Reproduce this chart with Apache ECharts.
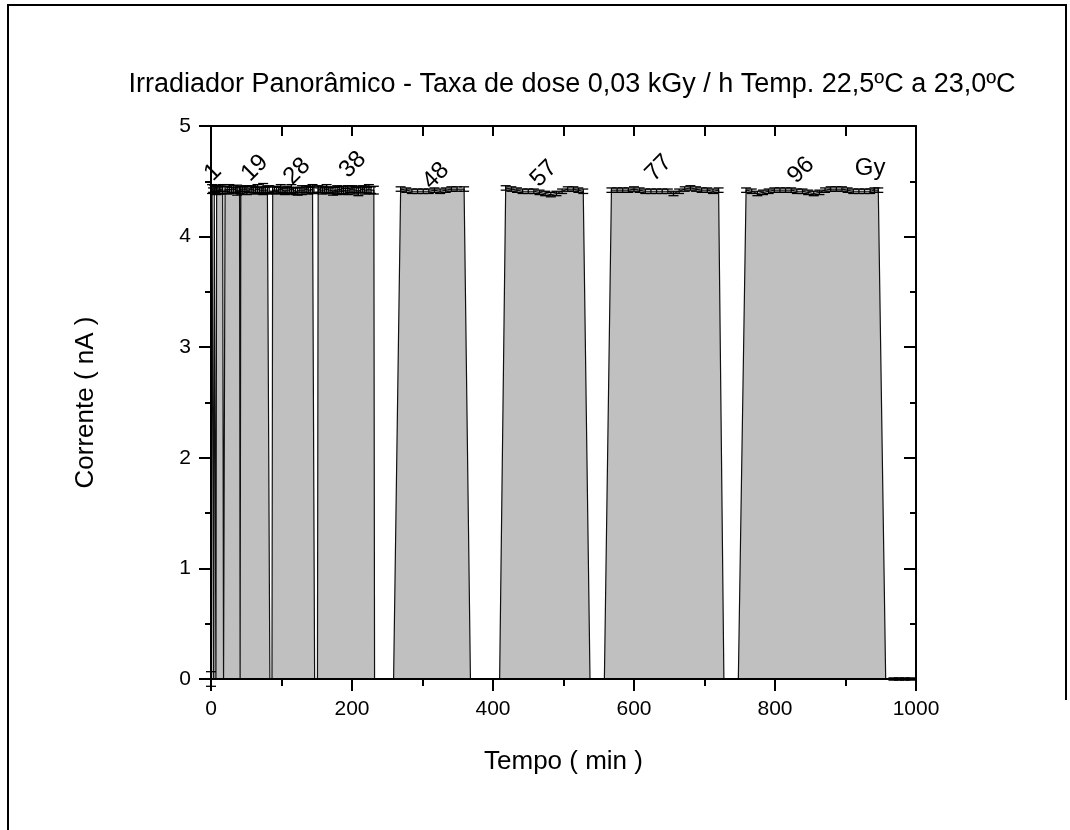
<!DOCTYPE html>
<html>
<head>
<meta charset="utf-8">
<script src="https://cdn.jsdelivr.net/npm/echarts@6/dist/echarts.min.js"></script>
<style>
html,body{margin:0;padding:0;background:#fff;}
#chart{width:1070px;height:830px;}
</style>
</head>
<body>
<div id="chart"></div>
<script>
// [tempo (min), corrente (nA), erro (nA)]
var bloco1 = [[0,0,0.066],[1.5,4.43,0.04],[3,4.42,0.02],[3.8,0,0],[4.6,4.43,0.035],[6,4.43,0.025],[7,0,0],[8,4.42,0.04],[10,4.43,0.02],[12,4.42,0.035],[14,4.43,0.025],[16.5,4.43,0.04],[17.8,0,0],[18.8,0,0],[20,4.43,0.02],[23,4.42,0.035],[26,4.43,0.04],[29,4.42,0.025],[32,4.43,0.03],[35,4.42,0.02],[37,4.42,0.045],[40.5,4.42,0.03],[41.3,0,0]];
var bloco2 = [[42.3,4.43,0.02],[45,4.42,0.035],[48,4.43,0.025],[51,4.42,0.04],[54,4.42,0.02],[57,4.43,0.03],[60,4.42,0.035],[63,4.42,0.025],[66,4.43,0.04],[69,4.42,0.02],[72,4.42,0.03],[74,4.43,0.05],[77,4.42,0.025],[80,4.42,0.035],[82.5,4.43,0.03],[83.5,0,0],[86.5,0,0]];
var bloco3 = [[87.5,4.42,0.03],[90,4.43,0.02],[93,4.42,0.035],[96,4.42,0.025],[99,4.43,0.04],[102,4.42,0.02],[105,4.41,0.03],[108,4.42,0.035],[111,4.42,0.025],[114,4.43,0.04],[117,4.42,0.02],[120,4.41,0.03],[123,4.41,0.035],[126,4.42,0.025],[129,4.42,0.04],[132,4.42,0.02],[135,4.43,0.03],[138,4.42,0.035],[141,4.42,0.025],[144,4.43,0.04],[146,4.42,0.03],[147,0,0],[151,0,0]];
var bloco4 = [[152,4.43,0.03],[155,4.42,0.02],[158,4.42,0.035],[161,4.42,0.025],[164,4.43,0.04],[167,4.42,0.02],[170,4.42,0.03],[173,4.41,0.035],[176,4.42,0.025],[179,4.42,0.04],[182,4.43,0.02],[185,4.42,0.03],[188,4.42,0.035],[191,4.41,0.025],[194,4.42,0.04],[197,4.42,0.02],[200,4.43,0.03],[203,4.42,0.035],[206,4.42,0.025],[209,4.41,0.04],[212,4.42,0.02],[215,4.43,0.03],[218,4.42,0.035],[221,4.42,0.025],[224,4.43,0.04],[227,4.42,0.03],[231,4.42,0.035],[232,0,0],[259,0,0]];
var bloco5 = [[269,4.43,0.02],[277,4.42,0.02],[285,4.41,0.02],[293,4.41,0.02],[301,4.41,0.02],[309,4.41,0.02],[317,4.42,0.02],[325,4.41,0.02],[333,4.42,0.02],[341,4.43,0.02],[349,4.43,0.02],[359,4.43,0.02],[368,0,0],[409.4,0,0]];
var bloco6 = [[418,4.44,0.02],[426,4.43,0.02],[434,4.42,0.02],[442,4.41,0.02],[450,4.41,0.02],[458,4.41,0.02],[466,4.40,0.02],[474,4.39,0.02],[482,4.38,0.02],[490,4.39,0.02],[498,4.41,0.02],[506,4.43,0.02],[514,4.43,0.02],[521,4.42,0.02],[528,4.41,0.02],[537.6,0,0],[558,0,0]];
var bloco7 = [[568,4.42,0.02],[576,4.42,0.02],[584,4.42,0.02],[592,4.42,0.02],[600,4.43,0.02],[608,4.42,0.02],[616,4.41,0.02],[624,4.41,0.02],[632,4.41,0.02],[640,4.41,0.02],[648,4.41,0.02],[656,4.39,0.02],[664,4.41,0.02],[672,4.43,0.02],[680,4.44,0.02],[688,4.43,0.02],[696,4.42,0.02],[704,4.42,0.02],[712,4.41,0.02],[720,4.42,0.02],[727.5,0,0],[748,0,0]];
var bloco8 = [[759,4.42,0.02],[767,4.41,0.02],[775,4.39,0.02],[783,4.40,0.02],[791,4.41,0.02],[799,4.42,0.02],[807,4.42,0.02],[815,4.42,0.02],[823,4.42,0.02],[831,4.41,0.02],[839,4.41,0.02],[847,4.40,0.02],[855,4.39,0.02],[863,4.40,0.02],[871,4.42,0.02],[879,4.43,0.02],[887,4.43,0.02],[895,4.43,0.02],[903,4.42,0.02],[911,4.41,0.02],[919,4.41,0.02],[927,4.41,0.02],[935,4.41,0.02],[941,4.42,0.02],[946.5,4.42,0.02],[957,0,0],[968,0,0.01],[976,0,0.01],[984,0,0.01],[992,0,0.01],[1000,0,0]];

// dose annotations (Gy)
var doseTexto = ['1','19','28','38','48','57','77','96'];
var doseTempo = [2.8, 62, 122, 201, 319, 472, 635, 837];
var doseCorrente = [4.58, 4.62, 4.59, 4.65, 4.55, 4.57, 4.62, 4.60];
var unidadeTexto = 'Gy';
var unidadePos = [935, 4.62];

var xTicks = [0, 200, 400, 600, 800, 1000];
var yTicks = [0, 1, 2, 3, 4, 5];

var todos = [].concat(bloco1, bloco2, bloco3, bloco4, bloco5, bloco6, bloco7, bloco8);
var linha = todos.map(function (d) { return [d[0], d[1]]; });

var FONT = '"Liberation Sans", Arial, sans-serif';
var chart = echarts.init(document.getElementById('chart'), null, {renderer: 'canvas'});

var anot = doseTexto.map(function (t, i) {
  return {name: t, value: [doseTempo[i], doseCorrente[i]], label: {rotate: 45}};
});
anot.push({name: unidadeTexto, value: unidadePos, label: {rotate: 0}});

var option = {
  backgroundColor: '#fff',
  animation: false,
  title: {
    text: 'Irradiador Panorâmico - Taxa de dose 0,03 kGy / h Temp. 22,5ºC a 23,0ºC',
    left: 567, top: 66, textAlign: 'center',
    textStyle: {fontFamily: FONT, fontSize: 27, fontWeight: 'normal', color: '#000'}
  },
  graphic: [{
    type: 'polyline',
    shape: {points: [[8, 830], [8, 5], [1066, 5], [1066, 700]]},
    style: {stroke: '#000', lineWidth: 2, fill: null},
    silent: true
  }],
  grid: {left: 211, right: 154, top: 126, bottom: 151},
  xAxis: [{
    type: 'value', min: 0, max: 1000, interval: 200, position: 'bottom', z: 10,
    name: 'Tempo ( min )', nameLocation: 'middle', nameGap: 70,
    nameTextStyle: {fontFamily: FONT, fontSize: 26, color: '#000'},
    axisLine: {show: true, onZero: false, lineStyle: {color: '#000', width: 2}},
    axisTick: {show: true, inside: false, length: 12, lineStyle: {color: '#000', width: 2}},
    minorTick: {show: true, splitNumber: 2, length: 7, lineStyle: {color: '#000', width: 2}},
    axisLabel: {fontFamily: FONT, fontSize: 21, color: '#000', margin: 20,
      formatter: function (v) { return xTicks.indexOf(v) >= 0 ? String(v) : ''; }},
    splitLine: {show: false}
  }, {
    type: 'value', min: 0, max: 1000, interval: 100, position: 'top', z: 10,
    axisLine: {show: true, onZero: false, lineStyle: {color: '#000', width: 2}},
    axisTick: {show: true, inside: true, length: 10, lineStyle: {color: '#000', width: 2}},
    axisLabel: {show: false},
    splitLine: {show: false}
  }],
  yAxis: [{
    type: 'value', min: 0, max: 5, interval: 1, position: 'left', z: 10,
    name: 'Corrente ( nA )', nameLocation: 'middle', nameGap: 112,
    nameTextStyle: {fontFamily: FONT, fontSize: 26, color: '#000'},
    axisLine: {show: true, onZero: false, lineStyle: {color: '#000', width: 2}},
    axisTick: {show: true, inside: false, length: 12, lineStyle: {color: '#000', width: 2}},
    minorTick: {show: true, splitNumber: 2, length: 6, lineStyle: {color: '#000', width: 2}},
    axisLabel: {fontFamily: FONT, fontSize: 21, color: '#000', margin: 20,
      formatter: function (v) { return yTicks.indexOf(v) >= 0 ? String(v) : ''; }},
    splitLine: {show: false}
  }, {
    type: 'value', min: 0, max: 5, interval: 1, position: 'right', z: 10,
    axisLine: {show: true, onZero: false, lineStyle: {color: '#000', width: 2}},
    axisTick: {show: true, inside: true, length: 12, lineStyle: {color: '#000', width: 2}},
    minorTick: {show: true, splitNumber: 2, length: 6, lineStyle: {color: '#000', width: 2}},
    axisLabel: {show: false},
    splitLine: {show: false}
  }],
  series: [{
    type: 'line',
    data: linha,
    xAxisIndex: 0, yAxisIndex: 0,
    symbol: 'none',
    lineStyle: {color: '#111', width: 1.2},
    areaStyle: {color: '#c0c0c0', opacity: 1},
    z: 2
  }, {
    type: 'custom',
    xAxisIndex: 0, yAxisIndex: 0,
    data: todos,
    z: 3,
    renderItem: function (params, api) {
      var x = api.value(0), y = api.value(1), e = api.value(2);
      if (!e) return null;
      var t = api.coord([x, y + e]);
      var b = api.coord([x, y - e]);
      var hw = 5;
      var st = {stroke: '#000', lineWidth: 1.3};
      return {
        type: 'group',
        children: [
          {type: 'line', shape: {x1: t[0], y1: t[1], x2: b[0], y2: b[1]}, style: st},
          {type: 'line', shape: {x1: t[0] - hw, y1: t[1], x2: t[0] + hw, y2: t[1]}, style: st},
          {type: 'line', shape: {x1: b[0] - hw, y1: b[1], x2: b[0] + hw, y2: b[1]}, style: st}
        ]
      };
    }
  }, {
    type: 'scatter',
    xAxisIndex: 0, yAxisIndex: 0,
    symbolSize: 0,
    data: anot,
    z: 5,
    itemStyle: {opacity: 1},
    label: {
      show: true, position: 'inside',
      formatter: function (p) { return p.name; },
      fontFamily: FONT, fontSize: 24, color: '#000', opacity: 1
    }
  }]
};
chart.setOption(option);
</script>
</body>
</html>
